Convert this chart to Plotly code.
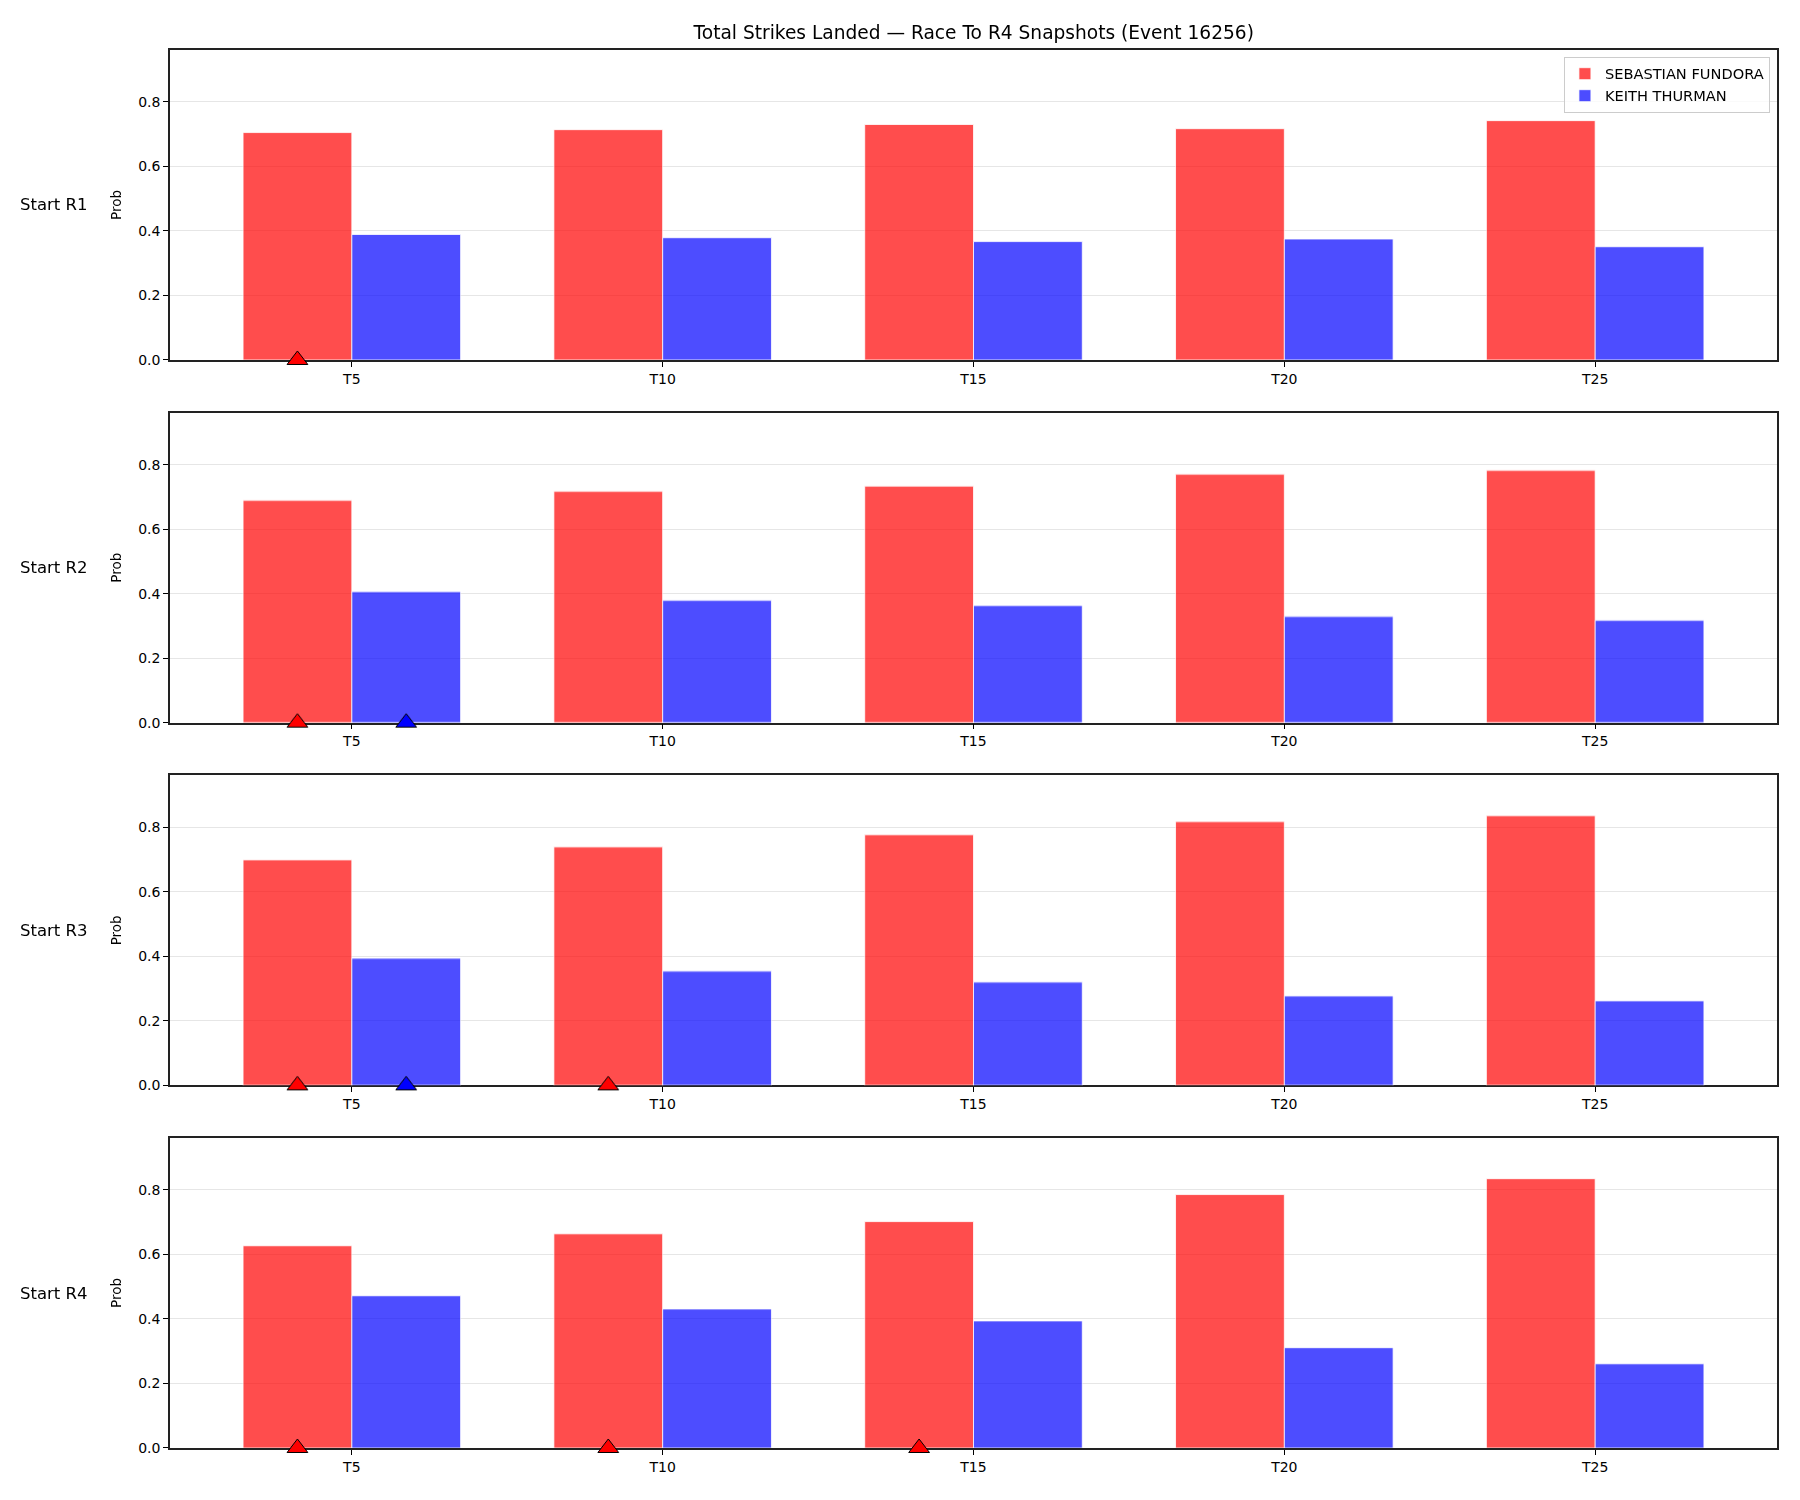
import plotly.graph_objects as go
from plotly.subplots import make_subplots

# ---------------- data ----------------
thresholds = ["T5", "T10", "T15", "T20", "T25"]
snapshots = ["Start R1", "Start R2", "Start R3", "Start R4"]
fighters = ["SEBASTIAN FUNDORA", "KEITH THURMAN"]

fundora_r1 = [0.705, 0.714, 0.730, 0.717, 0.742]
fundora_r2 = [0.689, 0.717, 0.733, 0.770, 0.782]
fundora_r3 = [0.699, 0.739, 0.777, 0.818, 0.836]
fundora_r4 = [0.627, 0.664, 0.702, 0.786, 0.835]

thurman_r1 = [0.389, 0.379, 0.367, 0.375, 0.351]
thurman_r2 = [0.406, 0.379, 0.363, 0.329, 0.317]
thurman_r3 = [0.394, 0.354, 0.320, 0.277, 0.262]
thurman_r4 = [0.472, 0.431, 0.394, 0.311, 0.261]

# thresholds already reached at each snapshot (triangle markers)
fundora_reached = [["T5"], ["T5"], ["T5", "T10"], ["T5", "T10", "T15"]]
thurman_reached = [[], ["T5"], ["T5"], []]

y_ticks = [0.0, 0.2, 0.4, 0.6, 0.8]

fundora_vals = [fundora_r1, fundora_r2, fundora_r3, fundora_r4]
thurman_vals = [thurman_r1, thurman_r2, thurman_r3, thurman_r4]

# ---------------- style ----------------
FONT = "DejaVu Sans"
RED = "#ff0000"
BLUE = "#0000ff"
BAR_W = 0.35
W, H = 1800, 1500
ML, MR, MT, MB = 170, 23, 50, 52
plot_w = W - ML - MR
plot_h = H - MT - MB

fig = make_subplots(rows=4, cols=1, vertical_spacing=52.7 / plot_h)

idx = list(range(len(thresholds)))
for r in range(4):
    row = r + 1
    fig.add_trace(go.Bar(
        x=idx, y=fundora_vals[r], width=BAR_W, offset=-BAR_W,
        marker=dict(color=RED, line=dict(color="white", width=0.8)),
        opacity=0.7, name=fighters[0], showlegend=(r == 0), legendgroup="f",
    ), row=row, col=1)
    fig.add_trace(go.Bar(
        x=idx, y=thurman_vals[r], width=BAR_W, offset=0,
        marker=dict(color=BLUE, line=dict(color="white", width=0.8)),
        opacity=0.7, name=fighters[1], showlegend=(r == 0), legendgroup="t",
    ), row=row, col=1)
    fx = [thresholds.index(t) - BAR_W / 2 for t in fundora_reached[r]]
    if fx:
        fig.add_trace(go.Scatter(
            x=fx, y=[0] * len(fx), mode="markers", cliponaxis=False, showlegend=False,
            marker=dict(symbol="triangle-up", size=18, color=RED, line=dict(color="black", width=1)),
        ), row=row, col=1)
    tx = [thresholds.index(t) + BAR_W / 2 for t in thurman_reached[r]]
    if tx:
        fig.add_trace(go.Scatter(
            x=tx, y=[0] * len(tx), mode="markers", cliponaxis=False, showlegend=False,
            marker=dict(symbol="triangle-up", size=18, color=BLUE, line=dict(color="black", width=1)),
        ), row=row, col=1)

    fig.update_xaxes(
        row=row, col=1, range=[-0.585, 4.585], tickmode="array", tickvals=idx, ticktext=thresholds,
        ticks="outside", ticklen=5, tickwidth=1, tickcolor="black", showgrid=False, zeroline=False,
        showline=True, linecolor="#222222", linewidth=1.5, mirror=True, layer="below traces",
        tickfont=dict(family=FONT, size=14, color="black"),
    )
    fig.update_yaxes(
        row=row, col=1, range=[0, 0.961], tickmode="array", tickvals=y_ticks,
        ticktext=[f"{v:.1f}" for v in y_ticks],
        ticks="outside", ticklen=5, tickwidth=1, tickcolor="black",
        showgrid=True, gridcolor="#e6e6e6", gridwidth=1, zeroline=False,
        showline=True, linecolor="#222222", linewidth=1.5, mirror=True, layer="below traces",
        tickfont=dict(family=FONT, size=14, color="black"),
    )

# annotations: row labels and "Prob" y labels
annotations = []
for r, name in enumerate(snapshots):
    axis = "yaxis" if r == 0 else f"yaxis{r + 1}"
    dom = fig.layout[axis].domain
    yc = (dom[0] + dom[1]) / 2
    annotations.append(dict(
        text=name, xref="paper", yref="paper", x=(90 - ML) / plot_w, y=yc,
        xanchor="right", yanchor="middle", showarrow=False,
        font=dict(family=FONT, size=16.5, color="black"),
    ))
    annotations.append(dict(
        text="Prob", xref="paper", yref="paper", x=(116 - ML) / plot_w, y=yc,
        xanchor="center", yanchor="middle", showarrow=False, textangle=-90,
        font=dict(family=FONT, size=13.5, color="black"),
    ))

fig.update_layout(
    width=W, height=H,
    margin=dict(l=ML, r=MR, t=MT, b=MB),
    paper_bgcolor="white", plot_bgcolor="white",
    barmode="overlay",
    title=dict(
        text="Total Strikes Landed \u2014 Race To R4 Snapshots (Event 16256)",
        x=(973.75) / W, xanchor="center", y=1 - 32 / H, yanchor="middle",
        font=dict(family=FONT, size=18.6, color="black"),
    ),
    legend=dict(
        x=0.9956, y=0.9952, xanchor="right", yanchor="top",
        bgcolor="rgba(255,255,255,0.8)", bordercolor="#cccccc", borderwidth=1,
        font=dict(family=FONT, size=14.6, color="black"), tracegroupgap=0,
    ),
    annotations=annotations,
    font=dict(family=FONT),
)

fig.write_html("out.html")
